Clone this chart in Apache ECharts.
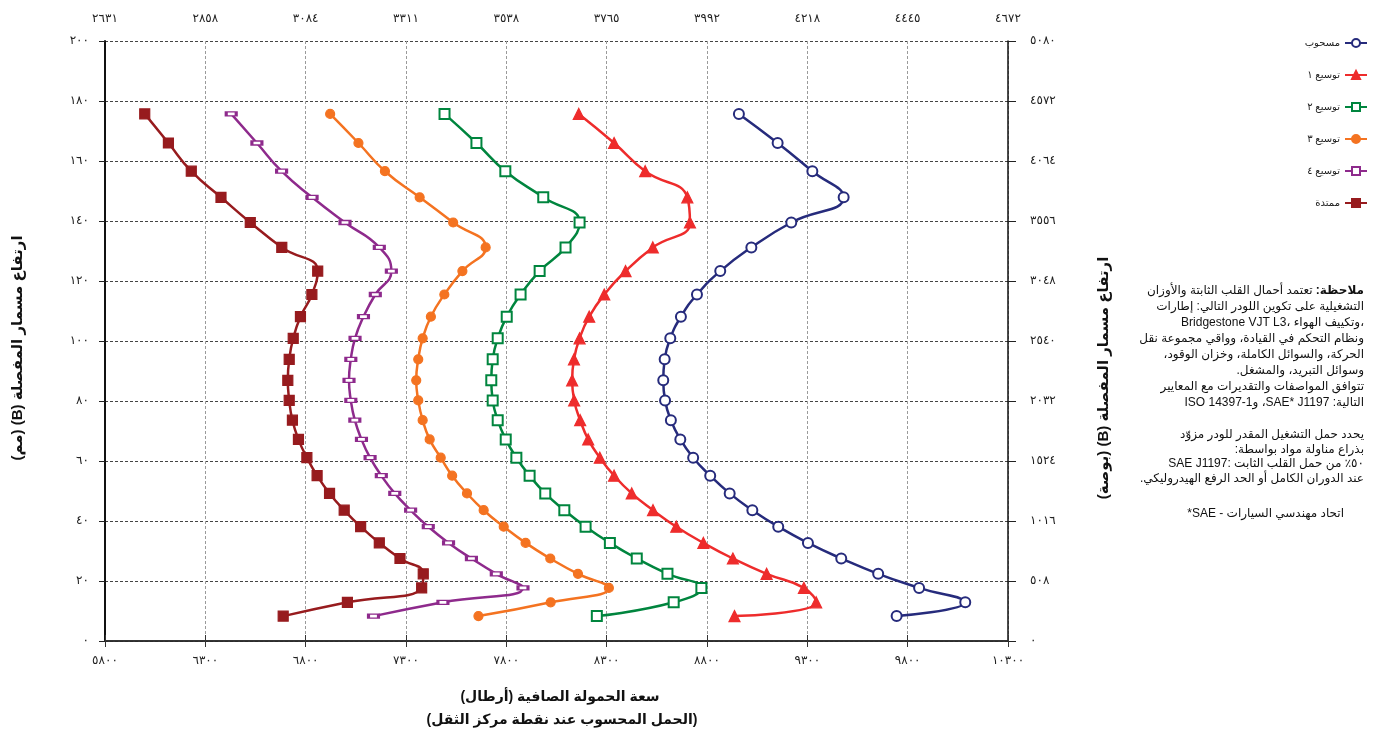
<!DOCTYPE html>
<html><head><meta charset="utf-8">
<script src="https://cdn.jsdelivr.net/npm/echarts@6/dist/echarts.min.js"></script>
<style>html,body{margin:0;padding:0;background:#fff}#c{width:1374px;height:736px}</style>
</head><body>
<div id="c"></div>
<script>
// ---- data ----
const pinHeights = [175.7,166.0,156.6,147.9,139.5,131.2,123.3,115.5,108.1,100.9,93.9,86.9,80.2,73.6,67.2,61.1,55.1,49.2,43.6,38.1,32.7,27.5,22.4,17.7,12.9,8.3];
const loadWithdrawn = [8959,9152,9325,9481,9220,9021,8866,8750,8670,8617,8589,8582,8591,8620,8667,8731,8816,8913,9026,9155,9303,9469,9653,9857,10087,9745];
const loadExt1 = [8161,8337,8492,8702,8715,8530,8394,8288,8213,8165,8137,8128,8138,8168,8208,8266,8337,8425,8531,8647,8782,8929,9097,9283,9344,8937];
const loadExt2 = [7492,7651,7795,7984,8165,8095,7966,7871,7802,7757,7732,7725,7732,7757,7797,7850,7916,7994,8089,8195,8316,8450,8603,8772,8634,8251];
const loadExt3 = [6922,7063,7195,7368,7535,7697,7581,7491,7424,7383,7361,7351,7361,7383,7418,7473,7530,7604,7687,7787,7896,8019,8157,8311,8021,7661];
const loadExt4 = [6429,6557,6680,6832,6996,7167,7227,7147,7088,7046,7025,7016,7025,7045,7078,7121,7177,7244,7323,7411,7512,7626,7750,7883,7484,7138];
const loadExtended = [5998,6116,6230,6378,6524,6681,6860,6831,6774,6738,6718,6711,6718,6734,6764,6806,6857,6919,6992,7074,7167,7270,7386,7378,7008,6688];
const seriesNames = ['مسحوب','توسيع ١','توسيع ٢','توسيع ٣','توسيع ٤','ممتدة'];
const xTickLabelsLb = ['٥٨٠٠','٦٣٠٠','٦٨٠٠','٧٣٠٠','٧٨٠٠','٨٣٠٠','٨٨٠٠','٩٣٠٠','٩٨٠٠','١٠٣٠٠'];
const xTickLabelsKg = ['٢٦٣١','٢٨٥٨','٣٠٨٤','٣٣١١','٣٥٣٨','٣٧٦٥','٣٩٩٢','٤٢١٨','٤٤٤٥','٤٦٧٢'];
const yTickLabelsLeft = ['٠','٢٠','٤٠','٦٠','٨٠','١٠٠','١٢٠','١٤٠','١٦٠','١٨٠','٢٠٠'];
const yTickLabelsRight = ['٠','٥٠٨','١٠١٦','١٥٢٤','٢٠٣٢','٢٥٤٠','٣٠٤٨','٣٥٥٦','٤٠٦٤','٤٥٧٢','٥٠٨٠'];
const xMin = 5800, xMax = 10300, xStep = 500;
const yMin = 0, yMax = 200, yStep = 20;

const leftTitle = 'ارتفاع مسمار المفصلة (B) (مم)';
const rightTitle = 'ارتفاع مسمار المفصلة (B) (بوصة)';
const bottomTitle1 = 'سعة الحمولة الصافية (أرطال)';
const bottomTitle2 = '(الحمل المحسوب عند نقطة مركز الثقل)';
const noteLead = 'ملاحظة:';
const noteLines1 = [
  ' تعتمد أحمال القلب الثابتة والأوزان',
  'التشغيلية على تكوين اللودر التالي: إطارات',
  'Bridgestone VJT L3، وتكييف الهواء،',
  'ونظام التحكم في القيادة، وواقي مجموعة نقل',
  'الحركة، والسوائل الكاملة، وخزان الوقود،',
  'وسوائل التبريد، والمشغل.',
  'تتوافق المواصفات والتقديرات مع المعايير',
  'التالية: SAE* J1197، وISO 14397-1'
];
const noteLines2 = [
  'يحدد حمل التشغيل المقدر للودر مزوّد',
  'بذراع مناولة مواد بواسطة:',
  'SAE J1197: ٥٠٪ من حمل القلب الثابت',
  'عند الدوران الكامل أو الحد الرفع الهيدروليكي.'
];
const noteLine3 = '*SAE - اتحاد مهندسي السيارات';

// ---- per-line text direction by first strong character ----
(function () {
  const RTL = /[\u0590-\u065F\u066A-\u06EF\u06FA-\u08FF\uFB1D-\uFDFF\uFE70-\uFEFF]/;
  const LTR = /[A-Za-z\u00C0-\u024F]/;
  function dirOf(t) {
    t = String(t);
    for (const ch of t) { if (RTL.test(ch)) return 'rtl'; if (LTR.test(ch)) return 'ltr'; }
    return 'ltr';
  }
  const P = CanvasRenderingContext2D.prototype;
  const f = P.fillText, s = P.strokeText;
  P.fillText = function (t, x, y, m) { this.direction = dirOf(t); return m === undefined ? f.call(this, t, x, y) : f.call(this, t, x, y, m); };
  P.strokeText = function (t, x, y, m) { this.direction = dirOf(t); return m === undefined ? s.call(this, t, x, y) : s.call(this, t, x, y, m); };
})();

// ---- styling ----
const FONT = "'Liberation Sans','DejaVu Sans',sans-serif";
const styles = [
  {color:'#262B7C', symbol:'emptyCircle', size:10},
  {color:'#EE2C2C', symbol:'triangle', size:11},
  {color:'#00853E', symbol:'emptyRect', size:10},
  {color:'#F47321', symbol:'circle', size:9},
  {color:'#8E2A8C', symbol:'emptyRect', size:[10,4]},
  {color:'#971B1E', symbol:'rect', size:10}
];
const loads = [loadWithdrawn, loadExt1, loadExt2, loadExt3, loadExt4, loadExtended];

const series = loads.map((arr, k) => ({
  name: seriesNames[k],
  type: 'line',
  smooth: 0.5,
  symbol: styles[k].symbol,
  symbolSize: styles[k].size,
  showAllSymbol: true,
  lineStyle: {color: styles[k].color, width: 2.5},
  itemStyle: {color: styles[k].color, borderColor: styles[k].color, borderWidth: 1.2},
  emphasis: {disabled: true},
  data: arr.map((v, i) => [v, pinHeights[i]])
}));

const tickLabelStyle = {fontFamily: FONT, fontSize: 12, color: '#222'};
const g = [];
g.push({type:'text', x:18, y:348, rotation:Math.PI/2, style:{text:leftTitle, font:'bold 15px '+FONT, fill:'#111', align:'center', verticalAlign:'middle'}});
g.push({type:'text', x:1104, y:378, rotation:Math.PI/2, style:{text:rightTitle, font:'bold 15px '+FONT, fill:'#111', align:'center', verticalAlign:'middle'}});
g.push({type:'text', x:560, y:697, style:{text:bottomTitle1, font:'bold 14px '+FONT, fill:'#111', align:'center', verticalAlign:'middle'}});
g.push({type:'text', x:562, y:720, style:{text:bottomTitle2, font:'bold 14px '+FONT, fill:'#111', align:'center', verticalAlign:'middle'}});

const noteX = 1364;
const plainNote = (t, x, y) => ({type:'text', x:x, y:y, style:{text:t, font:'12px '+FONT, fill:'#111', align:'right', verticalAlign:'middle'}});
noteLines1.forEach((t, i) => {
  if (i === 0) {
    g.push({type:'text', x:noteX, y:291, style:{text:'{n|'+t+'}{b|'+noteLead+'}', align:'right', verticalAlign:'middle',
      rich:{n:{font:'12px '+FONT, fill:'#111'}, b:{font:'bold 12px '+FONT, fill:'#111'}}}});
  } else {
    g.push(plainNote(t, noteX, 291 + i*16));
  }
});
noteLines2.forEach((t, i) => g.push(plainNote(t, noteX, 435 + i*14.4)));
g.push(plainNote(noteLine3, noteX - 20, 514));

const option = {
  animation: false,
  backgroundColor: '#fff',
  textStyle: {fontFamily: FONT},
  grid: {left: 105, right: 366, top: 41, bottom: 95, containLabel: false},
  legend: {
    orient: 'vertical', right: 6, top: 38, align: 'right', padding: 0,
    itemWidth: 22, itemHeight: 10, itemGap: 22,
    textStyle: {fontSize: 10, color: '#222', fontFamily: FONT},
    data: seriesNames
  },
  xAxis: [
    {type:'value', position:'bottom', min:xMin, max:xMax, interval:xStep,
     axisLine:{show:true, lineStyle:{color:'#444', width:1.5}},
     axisTick:{show:true, length:6, lineStyle:{color:'#333'}},
     axisLabel:{...tickLabelStyle, margin:14, formatter:(v)=>xTickLabelsLb[Math.round((v-xMin)/xStep)]},
     splitLine:{show:true, lineStyle:{color:'#9a9a9a', type:[3,2], width:1}}},
    {type:'value', position:'top', min:xMin, max:xMax, interval:xStep,
     axisLine:{show:true, lineStyle:{color:'#222', width:1.5}},
     axisTick:{show:true, length:6, lineStyle:{color:'#333'}},
     axisLabel:{...tickLabelStyle, margin:16, formatter:(v)=>xTickLabelsKg[Math.round((v-xMin)/xStep)]},
     splitLine:{show:false}}
  ],
  yAxis: [
    {type:'value', position:'left', min:yMin, max:yMax, interval:yStep,
     axisLine:{show:true, lineStyle:{color:'#111', width:2}},
     axisTick:{show:true, length:6, lineStyle:{color:'#222'}},
     axisLabel:{...tickLabelStyle, margin:16, formatter:(v)=>yTickLabelsLeft[Math.round((v-yMin)/yStep)]},
     splitLine:{show:true, lineStyle:{color:'#444', type:[3,2], width:1}}},
    {type:'value', position:'right', min:yMin, max:yMax, interval:yStep,
     axisLine:{show:true, lineStyle:{color:'#111', width:1.5}},
     axisTick:{show:true, length:8, lineStyle:{color:'#222'}},
     axisLabel:{...tickLabelStyle, margin:22, formatter:(v)=>yTickLabelsRight[Math.round((v-yMin)/yStep)]},
     splitLine:{show:false}}
  ],
  graphic: g,
  series: series
};
const chart = echarts.init(document.getElementById('c'), null, {renderer:'canvas'});
chart.setOption(option);
</script>
</body></html>
